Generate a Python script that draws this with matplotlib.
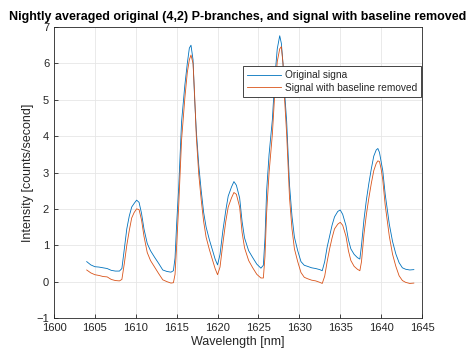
import numpy as np
import matplotlib
matplotlib.use('Agg')
import matplotlib.pyplot as plt

# wavelength grid [nm] and the two nightly averaged signals
wavelength = [1604.0, 1604.5, 1605.0, 1605.5, 1606.0, 1606.5, 1607.0, 1607.5, 1608.0, 1608.3,
              1608.6, 1608.9, 1609.2, 1609.5, 1609.8, 1610.1, 1610.4, 1610.7, 1611.0, 1611.4,
              1611.8, 1612.3, 1612.8, 1613.3, 1613.8, 1614.3, 1614.6, 1614.8, 1615.0, 1615.25,
              1615.6, 1616.0, 1616.3, 1616.55, 1616.75, 1617.0, 1617.2, 1617.4, 1617.7, 1618.0,
              1618.3, 1618.6, 1619.0, 1619.4, 1619.7, 1620.0, 1620.3, 1620.65, 1621.0, 1621.3,
              1621.7, 1622.0, 1622.3, 1622.7, 1623.0, 1623.3, 1623.8, 1624.3, 1624.8, 1625.3,
              1625.6, 1625.8, 1626.0, 1626.3, 1626.7, 1627.0, 1627.3, 1627.6, 1627.8, 1628.0,
              1628.2, 1628.45, 1628.8, 1629.1, 1629.4, 1629.8, 1630.2, 1630.6, 1631.0, 1631.5,
              1632.0, 1632.5, 1632.8, 1633.1, 1633.4, 1633.7, 1634.0, 1634.3, 1634.7, 1635.0,
              1635.3, 1635.7, 1636.0, 1636.3, 1636.7, 1637.1, 1637.4, 1637.6, 1637.9, 1638.2,
              1638.5, 1638.8, 1639.1, 1639.4, 1639.6, 1639.8, 1640.0, 1640.2, 1640.5, 1641.0,
              1641.4, 1641.8, 1642.2, 1642.6, 1643.0, 1643.5, 1644.0]

original = [0.55, 0.46, 0.41, 0.40, 0.38, 0.36, 0.31, 0.29, 0.29, 0.36,
            0.90, 1.45, 1.80, 2.05, 2.15, 2.24, 2.18, 1.88, 1.45, 1.05,
            0.85, 0.67, 0.50, 0.32, 0.28, 0.26, 0.30, 0.65, 1.60, 2.60,
            4.40, 5.40, 6.00, 6.42, 6.50, 6.10, 5.00, 4.15, 3.20, 2.50,
            1.90, 1.50, 1.15, 0.85, 0.62, 0.46, 0.75, 1.40, 1.95, 2.35,
            2.60, 2.75, 2.65, 2.30, 1.65, 1.20, 0.85, 0.66, 0.48, 0.37,
            0.45, 1.20, 2.50, 3.50, 4.45, 5.60, 6.40, 6.76, 6.55, 6.00,
            5.20, 4.40, 2.65, 1.80, 1.22, 0.85, 0.55, 0.45, 0.42, 0.38,
            0.36, 0.33, 0.30, 0.55, 0.95, 1.25, 1.55, 1.78, 1.93, 1.97,
            1.85, 1.54, 1.15, 0.90, 0.75, 0.66, 0.62, 1.00, 1.70, 2.25,
            2.70, 3.10, 3.45, 3.62, 3.66, 3.55, 3.30, 3.05, 2.40, 1.58,
            1.10, 0.76, 0.52, 0.38, 0.34, 0.32, 0.33]

removed = [0.32, 0.24, 0.19, 0.17, 0.14, 0.13, 0.06, 0.03, 0.02, 0.06,
           0.50, 1.00, 1.40, 1.75, 1.90, 2.00, 1.98, 1.70, 1.25, 0.80,
           0.58, 0.40, 0.22, 0.05, 0.00, -0.04, -0.03, 0.20, 1.00, 2.10,
           3.90, 5.05, 5.75, 6.10, 6.23, 6.00, 5.10, 4.00, 2.95, 2.25,
           1.65, 1.22, 0.88, 0.58, 0.36, 0.19, 0.40, 1.05, 1.65, 2.05,
           2.30, 2.45, 2.40, 2.05, 1.35, 0.93, 0.58, 0.38, 0.20, 0.10,
           0.10, 0.70, 1.90, 3.00, 4.05, 5.20, 6.05, 6.40, 6.46, 6.00,
           5.00, 4.05, 2.30, 1.45, 0.90, 0.55, 0.25, 0.12, 0.08, 0.04,
           0.02, -0.02, -0.05, 0.15, 0.55, 0.90, 1.20, 1.45, 1.58, 1.63,
           1.55, 1.25, 0.85, 0.58, 0.42, 0.34, 0.30, 0.55, 1.30, 1.85,
           2.30, 2.70, 3.05, 3.25, 3.32, 3.30, 3.10, 2.80, 2.10, 1.25,
           0.75, 0.42, 0.16, 0.03, -0.02, -0.05, -0.04]

plt.rcParams['font.family'] = ['Liberation Sans', 'DejaVu Sans']

fig = plt.figure(figsize=(4.7, 3.54), dpi=100)
ax = fig.add_axes([0.1149, 0.1017, 0.783, 0.822])

ax.plot(wavelength, original, color='#0072BD', lw=0.6, label='Original signa')
ax.plot(wavelength, removed, color='#D95319', lw=0.6, label='Signal with baseline removed')

ax.set_xlim(1600, 1645)
ax.set_ylim(-1, 7)
ax.set_xticks(np.arange(1600, 1646, 5))
ax.set_yticks(np.arange(-1, 8, 1))
ax.grid(True, color='#e6e6e6', lw=0.6)
ax.set_axisbelow(True)
ax.tick_params(direction='in', length=3, width=0.6, colors='#262626', labelsize=8,
               top=False, right=False)
for s in ax.spines.values():
    s.set_color('#262626')
    s.set_linewidth(0.6)

ax.set_xlabel('Wavelength [nm]', fontsize=9, color='#262626', labelpad=2)
ax.set_ylabel('Intensity [counts/second]', fontsize=9, color='#262626', labelpad=2)
ax.set_title('Nightly averaged original (4,2) P-branches, and signal with baseline removed',
             fontsize=9, fontweight='bold', pad=5)

leg = ax.legend(loc='upper right', bbox_to_anchor=(0.997, 0.866), fontsize=7.3,
                fancybox=False, framealpha=1, edgecolor='#262626',
                borderpad=0.4, handlelength=3.3, handletextpad=0.4, labelspacing=0.25,
                borderaxespad=0)
leg.get_frame().set_linewidth(0.6)
for t in leg.get_texts():
    t.set_color('#262626')

fig.savefig('out.png', dpi=100)
